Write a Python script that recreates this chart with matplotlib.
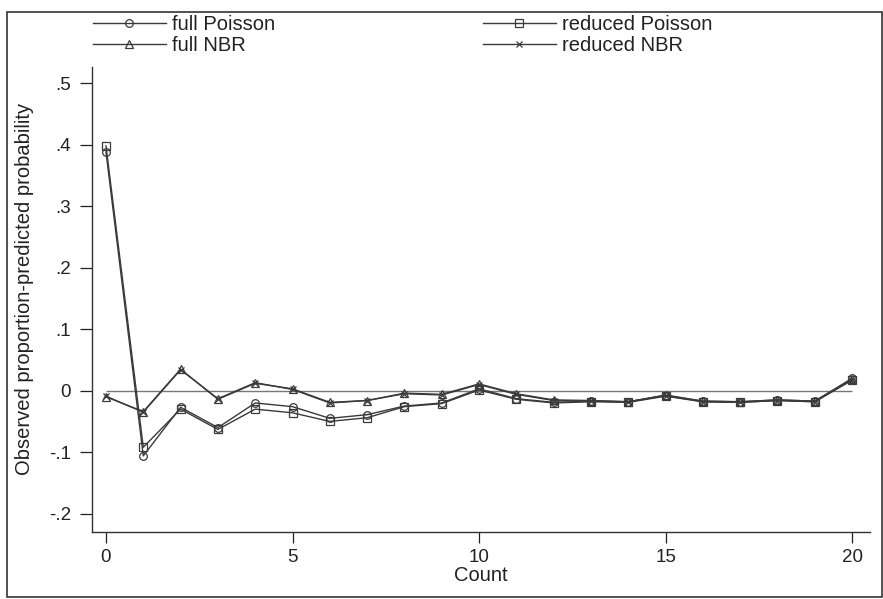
import matplotlib
matplotlib.use("Agg")
import matplotlib.pyplot as plt
from matplotlib.patches import Rectangle

plt.rcParams['font.family'] = ['Liberation Sans', 'DejaVu Sans']

counts = list(range(0, 21))
full_poisson = [0.388, -0.106, -0.027, -0.060, -0.020, -0.026, -0.045, -0.039, -0.025, -0.020,
                0.003, -0.013, -0.019, -0.017, -0.018, -0.008, -0.017, -0.018, -0.015, -0.017, 0.020]
reduced_poisson = [0.398, -0.092, -0.030, -0.063, -0.030, -0.036, -0.050, -0.044, -0.026, -0.021,
                   0.001, -0.014, -0.020, -0.018, -0.019, -0.009, -0.018, -0.019, -0.016, -0.018, 0.017]
full_nbr = [-0.010, -0.034, 0.035, -0.014, 0.012, 0.003, -0.019, -0.016, -0.004, -0.006,
            0.011, -0.005, -0.015, -0.016, -0.018, -0.007, -0.017, -0.018, -0.015, -0.017, 0.019]
reduced_nbr = [-0.009, -0.035, 0.034, -0.013, 0.013, 0.002, -0.020, -0.016, -0.005, -0.007,
               0.010, -0.006, -0.016, -0.017, -0.018, -0.008, -0.018, -0.019, -0.016, -0.018, 0.018]

yticks = [-0.2, -0.1, 0, 0.1, 0.2, 0.3, 0.4, 0.5]
ytick_labels = ['-.2', '-.1', '0', '.1', '.2', '.3', '.4', '.5']
xticks = [0, 5, 10, 15, 20]

W, H = 883, 599
fig = plt.figure(figsize=(W / 100, H / 100), dpi=100)
fig.patch.set_facecolor('white')

ax = fig.add_axes([92 / W, (H - 532) / H, (870 - 92) / W, (532 - 67) / H])

col = '#3a3a3a'
ax.hlines(0, counts[0], counts[-1], color='#777777', lw=1.0, zorder=1)
l1, = ax.plot(counts, full_poisson, color=col, lw=1.0, marker='o', ms=5.5, mfc='none', mec=col, mew=0.9, label='full Poisson')
l2, = ax.plot(counts, reduced_poisson, color=col, lw=1.0, marker='s', ms=5.5, mfc='none', mec=col, mew=0.9, label='reduced Poisson')
l3, = ax.plot(counts, full_nbr, color=col, lw=1.0, marker='^', ms=5.5, mfc='none', mec=col, mew=0.9, label='full NBR')
l4, = ax.plot(counts, reduced_nbr, color=col, lw=1.0, marker='x', ms=5, mec=col, mew=0.9, label='reduced NBR')

ax.set_xlim(-0.375, 20.48)
ax.set_ylim(-0.2298, 0.5263)
ax.set_xticks(xticks)
ax.set_yticks(yticks)
ax.set_yticklabels(ytick_labels)
ax.tick_params(axis='y', direction='out', length=9, width=0.9, pad=6, labelsize=13.5, colors='#222222')
ax.tick_params(axis='x', direction='out', length=8, width=0.9, pad=4, labelsize=13.5, colors='#222222')
for s in ['top', 'right']:
    ax.spines[s].set_visible(False)
for s in ['left', 'bottom']:
    ax.spines[s].set_color('#333333')
    ax.spines[s].set_linewidth(1.0)

ax.set_xlabel('Count', fontsize=14.5, labelpad=0, color='#222222')
fig.text(25 / W, 1 - 289 / H, 'Observed proportion-predicted probability', rotation=90,
         ha='center', va='center', fontsize=14.5, color='#222222')

leg = fig.legend([l1, l3, l2, l4], ['full Poisson', 'full NBR', 'reduced Poisson', 'reduced NBR'],
                 ncol=2, loc='upper left', bbox_to_anchor=(93 / W, 1 - 15 / H),
                 frameon=False, fontsize=14.5, handlelength=3.6, handletextpad=0.3,
                 columnspacing=10.35, labelspacing=0.08, borderpad=0, borderaxespad=0)
for t in leg.get_texts():
    t.set_color('#222222')

fig.add_artist(Rectangle((7 / W, 1 - 597 / H), (882 - 7) / W, (597 - 12) / H,
                         transform=fig.transFigure, fill=False, ec='#333333', lw=1.2))

fig.savefig('out.png', dpi=100, facecolor='white')
